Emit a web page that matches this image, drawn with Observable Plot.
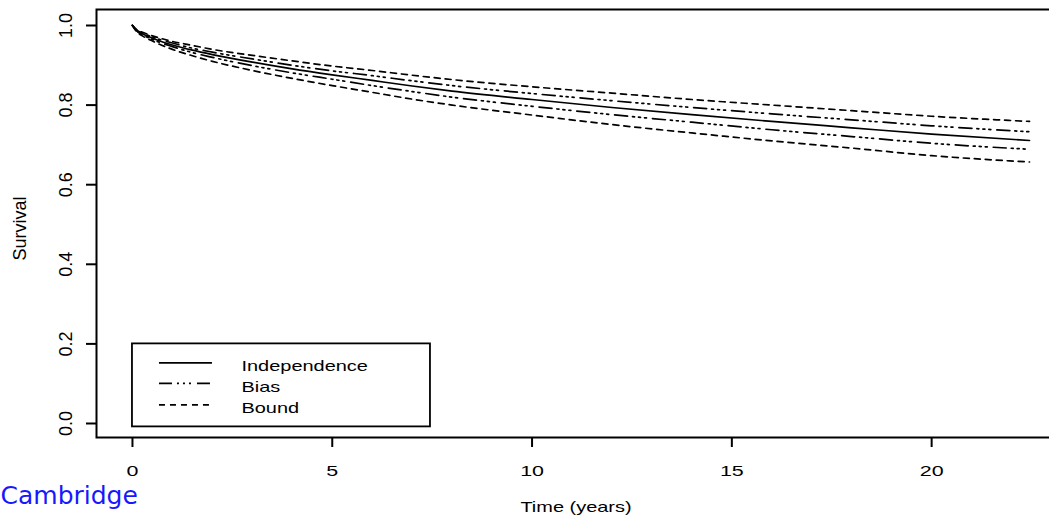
<!DOCTYPE html>
<html><head><meta charset="utf-8">
<script src="https://cdn.jsdelivr.net/npm/d3@7"></script>
<script src="https://cdn.jsdelivr.net/npm/@observablehq/plot@0.6"></script>
<style>html,body{margin:0;padding:0;background:#fff;} #chart{width:1049px;height:522px;overflow:hidden;}</style>
</head><body><div id="chart"></div>
<script>
// ---- data ----
const time = [0, 0.1, 0.25, 0.5, 1, 1.5, 2, 3, 4, 5, 6, 7, 8, 10, 12, 14, 16, 18, 20, 22.45];
const independence = [1.000, 0.988, 0.979, 0.968, 0.951, 0.938, 0.927, 0.908, 0.891, 0.876, 0.862, 0.848, 0.835, 0.814, 0.794, 0.776, 0.759, 0.743, 0.727, 0.711];
const biasUpper    = [1.000, 0.989, 0.981, 0.971, 0.956, 0.943, 0.933, 0.916, 0.900, 0.886, 0.874, 0.861, 0.849, 0.829, 0.811, 0.794, 0.778, 0.763, 0.748, 0.733];
const biasLower    = [1.000, 0.987, 0.977, 0.965, 0.947, 0.932, 0.920, 0.899, 0.881, 0.865, 0.849, 0.834, 0.820, 0.797, 0.776, 0.757, 0.738, 0.721, 0.704, 0.689];
const boundUpper   = [1.000, 0.990, 0.983, 0.974, 0.960, 0.950, 0.940, 0.925, 0.911, 0.898, 0.887, 0.875, 0.864, 0.846, 0.830, 0.814, 0.800, 0.786, 0.772, 0.759];
const boundLower   = [1.000, 0.985, 0.974, 0.961, 0.940, 0.924, 0.910, 0.887, 0.867, 0.849, 0.832, 0.815, 0.800, 0.775, 0.751, 0.730, 0.710, 0.692, 0.673, 0.657];
const xTicks = [0, 5, 10, 15, 20];
const yTicks = [0, 0.2, 0.4, 0.6, 0.8, 1.0];
const legendLabels = ["Independence", "Bias", "Bound"];
const xLabel = "Time (years)";
const yLabel = "Survival";
const brand = "Cambridge";
const legendAnchor = {x: 0, y: 0.2};

// ---- styles ----
const DASH = {Independence: null, Bias: "13 5 2 4 2 4 2 6", Bound: "6 5"};
const seriesList = [
  {name: "Independence", values: independence},
  {name: "Bias", values: biasUpper},
  {name: "Bias", values: biasLower},
  {name: "Bound", values: boundUpper},
  {name: "Bound", values: boundLower}
];
const lineMarks = seriesList.map(s =>
  Plot.line(time.map((t, i) => ({t, v: s.values[i]})), {
    x: "t", y: "v", stroke: "black", strokeWidth: 1.7, curve: "monotone-x",
    strokeDasharray: DASH[s.name] || undefined
  })
);
const legendRowDy = [19, 39.5, 61];
const legendTextDy = [22, 43, 64];
const legendMarks = [
  Plot.rect([legendAnchor], {x1: "x", x2: "x", y1: "y", y2: "y", insetRight: -298, insetBottom: -83,
    stroke: "black", strokeWidth: 1.8, fill: "none"})
];
legendLabels.forEach((lab, i) => {
  legendMarks.push(Plot.ruleY([legendAnchor], {x1: "x", x2: "x", y: "y", insetLeft: 27, insetRight: -80,
    dy: legendRowDy[i], stroke: "black", strokeWidth: 1.7, strokeDasharray: DASH[lab] || undefined}));
  legendMarks.push(Plot.text([legendAnchor], {x: "x", y: "y", text: () => lab, dx: 109, dy: legendTextDy[i],
    textAnchor: "start", lineAnchor: "middle", fontSize: 15, fill: "black"}));
});

const plot = Plot.plot({
  width: 1049, height: 522,
  marginLeft: 96, marginRight: -18, marginTop: 9, marginBottom: 85,
  x: {domain: [-0.9, 23.4]},
  y: {domain: [-0.0352, 1.0402]},
  style: {fontFamily: "'Liberation Sans', Arial, sans-serif", color: "black", background: "white"},
  marks: [
    Plot.frame({stroke: "black", strokeWidth: 2}),
    Plot.axisX(xTicks, {tickSize: 10, tickPadding: 18, fontSize: 15, strokeWidth: 2, tickFormat: d => String(d), label: null}),
    Plot.axisY(yTicks, {tickSize: 10, tickPadding: 20.3, tickRotate: -90, textAnchor: "middle", lineAnchor: "middle",
      fontSize: 18, strokeWidth: 2, tickFormat: d => d.toFixed(1), label: null}),
    Plot.text([yLabel], {frameAnchor: "left", dx: -76, dy: 5, rotate: -90, fontSize: 18, textAnchor: "middle",
      lineAnchor: "middle", text: d => d}),
    Plot.text([xLabel], {frameAnchor: "bottom", dx: -6, dy: 70, fontSize: 15, lineAnchor: "middle", text: d => d}),
    Plot.text([brand], {frameAnchor: "bottom-left", dx: -96, dy: 58.3, textAnchor: "start", lineAnchor: "middle",
      fontSize: 25, fontFamily: "DejaVu Sans", fill: "#1818ff", text: d => d}),
    ...legendMarks,
    ...lineMarks
  ]
});
document.getElementById("chart").append(plot);

// horizontal text in the reference is rendered wider than normal
plot.querySelectorAll("text").forEach(t => {
  const tr = t.getAttribute("transform") || "";
  const content = t.textContent;
  if (tr.includes("rotate") || content === brand) return;
  const f = /^[0-9.]+$/.test(content) ? 1.43 : 1.33;
  const w = t.getComputedTextLength();
  if (w > 0) { t.setAttribute("textLength", (w * f).toFixed(2)); t.setAttribute("lengthAdjust", "spacingAndGlyphs"); }
});
</script>
</body></html>
